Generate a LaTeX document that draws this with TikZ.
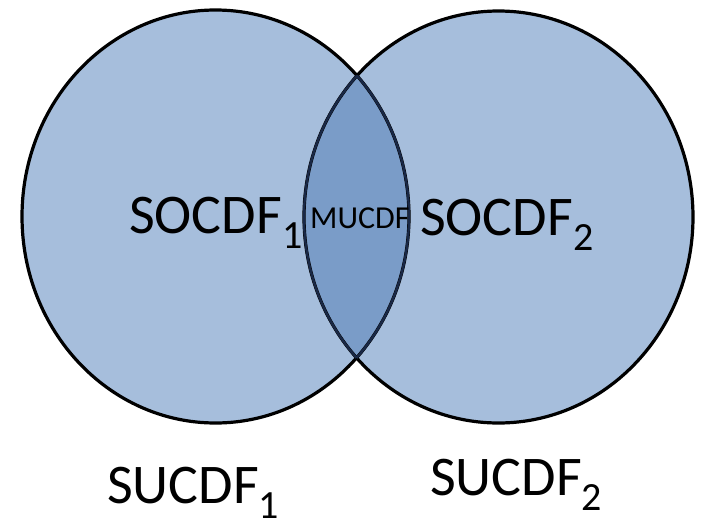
\documentclass[tikz,border=0pt]{standalone}
\usepackage{fontspec}
\setmainfont{Carlito}
\definecolor{lightfill}{RGB}{166,190,220}
\definecolor{darkfill}{RGB}{122,156,200}
\definecolor{innerline}{RGB}{25,40,70}
\newcommand\mysub[1]{\raisebox{-15pt}{\fontsize{40}{40}\selectfont #1}}
\tikzset{
  biglabel/.style={anchor=base west, inner sep=0pt, font=\fontsize{56}{56}\selectfont},
  smalllabel/.style={anchor=base west, inner sep=0pt, font=\fontsize{32}{32}\selectfont},
  outline/.style={draw=black, line width=3.2pt}
}
\begin{document}
\begin{tikzpicture}[x=1pt,y=-1pt]
\useasboundingbox (0,0) rectangle (702,528);
% fills
\fill[lightfill] (215.5,216.5) ellipse [x radius=193.5, y radius=206.5];
\fill[lightfill] (498.5,217) ellipse [x radius=194.5, y radius=206];
\begin{scope}
  \clip (215.5,216.5) ellipse [x radius=193.5, y radius=206.5];
  \fill[darkfill] (498.5,217) ellipse [x radius=194.5, y radius=206];
\end{scope}
% outlines
\draw[outline] (215.5,216.5) ellipse [x radius=193.5, y radius=206.5];
\draw[outline] (498.5,217) ellipse [x radius=194.5, y radius=206];
\begin{scope}
  \clip (215.5,216.5) ellipse [x radius=193.5, y radius=206.5];
  \draw[innerline, line width=2.4pt] (498.5,217) ellipse [x radius=194.5, y radius=206];
\end{scope}
\begin{scope}
  \clip (498.5,217) ellipse [x radius=194.5, y radius=206];
  \draw[innerline, line width=2.4pt] (215.5,216.5) ellipse [x radius=193.5, y radius=206.5];
\end{scope}
% labels
\node[biglabel] (soc1) at (129,233) {SOCDF\mysub{1}};
\node[biglabel] (soc2) at (420,235) {SOCDF\mysub{2}};
\node[smalllabel] (mucdf) at (310,228) {MUCDF};
\node[biglabel] (suc1) at (107,503) {SUCDF\mysub{1}};
\node[biglabel] (suc2) at (430,495) {SUCDF\mysub{2}};
\end{tikzpicture}
\end{document}
